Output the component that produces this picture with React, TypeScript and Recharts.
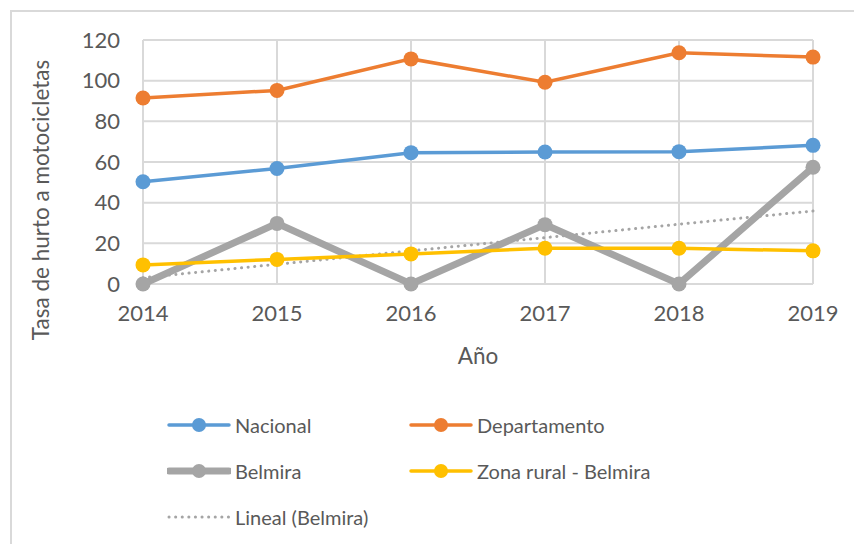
import { LineChart, Line, XAxis, YAxis, CartesianGrid } from "recharts";

const years = ["2014", "2015", "2016", "2017", "2018", "2019"];
const nacional = [50.3, 56.8, 64.6, 64.9, 65.1, 68.2];
const departamento = [91.5, 95.2, 110.7, 99.2, 113.7, 111.6];
const belmira = [0, 29.8, 0, 29.2, 0, 57.4];
const zonaRural = [9.4, 12.1, 14.8, 17.6, 17.6, 16.3];
const linealBelmira = [3.1, 9.7, 16.3, 22.8, 29.4, 35.9];

const data = years.map((year, i) => ({
  year,
  nacional: nacional[i],
  departamento: departamento[i],
  belmira: belmira[i],
  zonaRural: zonaRural[i],
  lineal: linealBelmira[i],
}));

const font = "Lato, 'Open Sans', sans-serif";
const textColor = "#595959";

const legendItems = [
  { name: "Nacional", color: "#5B9BD5", width: 3.5, dot: true, dashed: false },
  { name: "Departamento", color: "#ED7D31", width: 3.5, dot: true, dashed: false },
  { name: "Belmira", color: "#A5A5A5", width: 7, dot: true, dashed: false },
  { name: "Zona rural - Belmira", color: "#FFC000", width: 3.5, dot: true, dashed: false },
  { name: "Lineal (Belmira)", color: "#A5A5A5", width: 3, dot: false, dashed: true },
];

// legend drawn by hand, two columns like the Excel original
function ChartLegend() {
  return (
    <div style={{ position: "absolute", left: 0, top: 410, width: 854, height: 130 }}>
      {legendItems.map((item, i) => {
        const col = i % 2;
        const row = Math.floor(i / 2);
        return (
          <div
            key={item.name}
            style={{
              position: "absolute",
              left: col === 0 ? 167 : 409,
              top: row * 46,
              display: "flex",
              alignItems: "center",
              height: 30,
            }}
          >
            <svg width={64} height={20}>
              <line
                x1={2}
                x2={62}
                y1={10}
                y2={10}
                stroke={item.color}
                strokeWidth={item.width}
                strokeLinecap="round"
                strokeDasharray={item.dashed ? "0.1 6.5" : undefined}
              />
              {item.dot && <circle cx={32} cy={10} r={7} fill={item.color} />}
            </svg>
            <span
              style={{
                fontFamily: font,
                fontSize: 20,
                color: textColor,
                marginLeft: 4,
                whiteSpace: "nowrap",
              }}
            >
              {item.name}
            </span>
          </div>
        );
      })}
    </div>
  );
}

const yTitle = (props: any) => {
  const vb = props.viewBox;
  const cx = vb.x + 40;
  const cy = vb.y + vb.height / 2 + 38;
  return (
    <text
      x={cx}
      y={cy}
      transform={`rotate(-90 ${cx} ${cy})`}
      textAnchor="middle"
      dominantBaseline="central"
      fill={textColor}
      fontSize={22.5}
      fontFamily={font}
    >
      Tasa de hurto a motocicletas
    </text>
  );
};

export default function App() {
  return (
    <div
      style={{
        position: "absolute",
        left: 0,
        top: 0,
        width: 854,
        height: 544,
        background: "#fff",
      }}
    >
      <div
        style={{
          position: "absolute",
          left: 10,
          top: 10,
          width: 844,
          height: 534,
          borderTop: "2px solid #d9d9d9",
          borderLeft: "2px solid #d9d9d9",
        }}
      />
      <div style={{ position: "absolute", left: 0, top: 0 }}>
        <LineChart
          width={854}
          height={544}
          data={data}
          margin={{ top: 40, right: 41, bottom: 230, left: 0 }}
        >
          <CartesianGrid stroke="#d9d9d9" strokeWidth={2} />
          <XAxis
            dataKey="year"
            axisLine={false}
            tickLine={false}
            tick={{ fill: textColor, fontSize: 22, fontFamily: font }}
            tickMargin={15}
            label={{
              value: "Año",
              position: "insideBottom",
              offset: -50,
              fill: textColor,
              fontSize: 22.5,
              fontFamily: font,
            }}
          />
          <YAxis
            width={143}
            domain={[0, 120]}
            ticks={[0, 20, 40, 60, 80, 100, 120]}
            axisLine={false}
            tickLine={false}
            tick={{ fill: textColor, fontSize: 22, fontFamily: font }}
            tickMargin={17}
            label={yTitle}
          />
          <Line
            dataKey="lineal"
            stroke="#A5A5A5"
            strokeWidth={3}
            strokeDasharray="0.1 6.5"
            strokeLinecap="round"
            dot={false}
            activeDot={false}
            isAnimationActive={false}
          />
          <Line
            dataKey="nacional"
            stroke="#5B9BD5"
            strokeWidth={3.5}
            dot={{ r: 7.5, fill: "#5B9BD5", stroke: "none" }}
            activeDot={false}
            isAnimationActive={false}
          />
          <Line
            dataKey="departamento"
            stroke="#ED7D31"
            strokeWidth={3.5}
            dot={{ r: 7.5, fill: "#ED7D31", stroke: "none" }}
            activeDot={false}
            isAnimationActive={false}
          />
          <Line
            dataKey="belmira"
            stroke="#A5A5A5"
            strokeWidth={7}
            dot={{ r: 7.5, fill: "#A5A5A5", stroke: "none" }}
            activeDot={false}
            isAnimationActive={false}
          />
          <Line
            dataKey="zonaRural"
            stroke="#FFC000"
            strokeWidth={3.5}
            dot={{ r: 7.5, fill: "#FFC000", stroke: "none" }}
            activeDot={false}
            isAnimationActive={false}
          />
        </LineChart>
      </div>
      <ChartLegend />
    </div>
  );
}
